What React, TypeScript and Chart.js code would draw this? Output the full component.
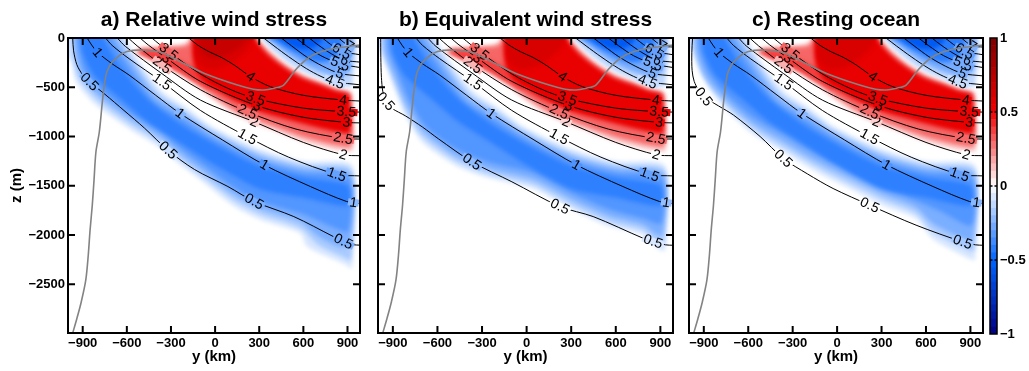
import React, { useEffect, useRef } from 'react';
import { Chart, registerables } from 'chart.js';

// ---------------- axes / ticks ----------------
const Y_KM_MIN = -1000;
const Y_KM_MAX = 985;
const Z_M_MIN = -2995;
const Z_M_MAX = 0;
const X_TICKS = [-900, -600, -300, 0, 300, 600, 900];
const Z_TICKS = [0, -500, -1000, -1500, -2000, -2500];
const CB_TICKS = [-1, -0.5, 0, 0.5, 1];
const CB_INNER_TICKS = [-0.5, 0, 0.5];
const CB_BINS = 40;

const TITLES = ['a) Relative wind stress', 'b) Equivalent wind stress', 'c) Resting ocean'];

// ---------------- contour lines (y km, z m) ----------------
const C05_A = [[-968,0],[-962,-130],[-940,-270],[-900,-375],[-854,-444],[-750,-570],[-620,-735],[-480,-915],[-320,-1140],[-140,-1335],[87,-1508],[266,-1660],[535,-1813],[804,-2016],[872,-2067],[935,-2098],[985,-2103]];
const C05_B = [[-982,0],[-981,-200],[-977,-400],[-968,-540],[-950,-640],[-905,-715],[-816,-790],[-700,-905],[-592,-1025],[-368,-1257],[-99,-1460],[224,-1711],[448,-1813],[784,-2033],[851,-2067],[935,-2100],[985,-2104]];
const C05_C = [[-976,0],[-981,-150],[-979,-330],[-965,-440],[-935,-530],[-901,-596],[-800,-690],[-699,-783],[-520,-1000],[-363,-1223],[-200,-1380],[-27,-1528],[220,-1697],[533,-1900],[847,-2070],[935,-2100],[985,-2104]];
const C10 = [[-870,0],[-835,-80],[-798,-147],[-700,-262],[-585,-376],[-406,-579],[-238,-766],[50,-1035],[334,-1288],[648,-1508],[894,-1660],[985,-1680]];
const C15 = [[-745,0],[-700,-75],[-585,-210],[-361,-444],[-100,-735],[219,-1003],[500,-1210],[827,-1385],[985,-1400]];
const C20 = [[-665,0],[-610,-85],[-361,-362],[-100,-630],[266,-851],[600,-1060],[872,-1186],[985,-1195]];
const C25 = [[-590,0],[-530,-80],[-361,-275],[-100,-525],[219,-749],[550,-925],[870,-1020],[985,-1026]];
const C30 = [[-510,0],[-455,-70],[-330,-205],[-100,-440],[286,-688],[600,-805],[892,-857],[985,-862]];
const C35 = [[-430,0],[-380,-62],[-316,-139],[-100,-365],[100,-520],[275,-614],[600,-712],[892,-749],[985,-752]];
const C40 = [[-178,0],[-120,-70],[-40,-140],[40,-195],[130,-275],[242,-393],[377,-495],[600,-582],[870,-630],[985,-640]];
const C45 = [[330,0],[400,-80],[500,-190],[620,-310],[720,-390],[814,-444],[985,-475]];
const C50 = [[450,0],[520,-80],[620,-190],[730,-285],[847,-360],[985,-385]];
const C55 = [[550,0],[620,-80],[720,-180],[850,-262],[985,-300]];
const C60 = [[640,0],[700,-70],[790,-160],[880,-225],[985,-245]];
const C65 = [[730,0],[785,-65],[860,-135],[985,-170]];
const C70 = [[840,0],[875,-45],[914,-82],[985,-92]];

const SHARED_CONTOURS: any[] = [
  ['1', C10], ['1.5', C15], ['2', C20], ['2.5', C25], ['3', C30], ['3.5', C35],
  ['4', C40], ['4.5', C45], ['5', C50], ['5.5', C55], ['6', C60], ['6.5', C65], ['7', C70],
];

// contour label positions
const L05_A = [[-854,-444],[-320,-1140],[266,-1660],[872,-2067]];
const L05_B = [[-950,-645],[-368,-1257],[224,-1711],[851,-2067]];
const L05_C = [[-901,-596],[-363,-1223],[220,-1697],[847,-2070]];
const SHARED_LABELS: any[] = [
  ['1', [[-798,-147],[-238,-766],[334,-1288],[940,-1672]]],
  ['1.5', [[-361,-444],[219,-1003],[827,-1385]]],
  ['2', [[266,-851],[872,-1186]]],
  ['2.5', [[-361,-275],[219,-749],[870,-1020]]],
  ['3', [[-330,-205],[286,-688],[892,-857]]],
  ['3.5', [[-316,-139],[275,-614],[892,-749]]],
  ['4', [[242,-393],[870,-630]]],
  ['4.5', [[814,-444]]],
  ['5', [[847,-360]]],
  ['5.5', [[850,-262]]],
  ['6', [[880,-225]]],
  ['6.5', [[860,-135]]],
  ['7', [[914,-82]]],
];

// grey profile line
const GRAY_LINE = [[-969,-3000],[-940,-2850],[-910,-2680],[-879,-2456],[-862,-2200],[-850,-1950],[-835,-1700],[-823,-1440],[-810,-1155],[-787,-952],[-764,-614],[-742,-376],[-720,-290],[-697,-241],[-630,-156],[-560,-126],[-460,-124],[-360,-150],[-250,-230],[-72,-360],[152,-478],[260,-520],[332,-528],[400,-510],[466,-478],[555,-309],[646,-190],[757,-122],[892,-88],[985,-72]];

// ---------------- shaded field ----------------
// deep blue band: upper edges (shared) and lower edges (per panel)
const BAND_VALUES = [-0.08, -0.17, -0.26, -0.34];
const BAND_U1 = [[-1050,60],[-610,60],[-610,0],[-520,-230],[-361,-540],[-200,-700],[-31,-890],[305,-1130],[600,-1250],[932,-1300]];
const BAND_U2 = [[-975,60],[-640,60],[-640,0],[-545,-240],[-380,-570],[-210,-735],[-31,-930],[305,-1170],[600,-1290],[925,-1340]];
const BAND_U3 = [[-960,60],[-670,60],[-670,0],[-570,-250],[-400,-600],[-220,-770],[-31,-965],[305,-1205],[600,-1325],[915,-1375]];
const BAND_U4 = [[-935,60],[-710,60],[-710,0],[-600,-270],[-420,-640],[-230,-820],[-31,-1010],[305,-1250],[600,-1370],[905,-1420]];
const BAND_CORE_VALUE = -0.41;
const BAND_CORE = [[-920,60],[-760,60],[-760,0],[-640,-300],[-460,-620],[-250,-860],[0,-1080],[300,-1300],[600,-1420],[900,-1500],[900,-1700],[600,-1620],[300,-1530],[0,-1290],[-250,-1050],[-460,-850],[-640,-620],[-820,-380],[-900,-150],[-910,0]];

const BAND_LA1 = [[-1050,-220],[-985,-220],[-944,-444],[-809,-681],[-585,-919],[-361,-1125],[-249,-1270],[-70,-1474],[132,-1711],[311,-1846],[580,-1982],[625,-2118],[894,-2304],[932,-2340]];
const BAND_LA2 = [[-975,0],[-965,-200],[-925,-410],[-800,-630],[-585,-865],[-361,-1070],[-249,-1215],[-70,-1420],[132,-1650],[311,-1790],[580,-1930],[700,-2100],[880,-2230],[925,-2250]];
const BAND_LA3 = [[-960,0],[-945,-180],[-905,-380],[-790,-580],[-585,-810],[-361,-1015],[-249,-1160],[-70,-1360],[132,-1590],[311,-1730],[580,-1860],[700,-2010],[850,-2120],[915,-2100]];
const BAND_LA4 = [[-935,0],[-920,-150],[-885,-330],[-780,-520],[-585,-750],[-361,-960],[-249,-1100],[-70,-1300],[132,-1520],[311,-1660],[600,-1790],[800,-1920],[905,-1960]];

const BAND_LB1 = [[-1050,-120],[-985,-120],[-973,-160],[-906,-444],[-816,-783],[-704,-1054],[-480,-1291],[-256,-1420],[45,-1530],[314,-1745],[562,-1915],[784,-1999],[896,-2151],[932,-2160]];
const BAND_LB2 = [[-975,0],[-965,-160],[-900,-410],[-810,-740],[-700,-1000],[-480,-1240],[-256,-1375],[45,-1485],[314,-1700],[562,-1865],[784,-1950],[880,-2080],[925,-2090]];
const BAND_LB3 = [[-960,0],[-950,-150],[-890,-380],[-800,-700],[-690,-950],[-480,-1190],[-256,-1325],[45,-1435],[314,-1645],[562,-1810],[784,-1895],[870,-1990],[915,-2000]];
const BAND_LB4 = [[-935,0],[-925,-130],[-870,-340],[-785,-640],[-680,-890],[-480,-1120],[-256,-1260],[45,-1370],[314,-1580],[562,-1740],[784,-1830],[905,-1880]];

const BAND_LC1 = [[-1050,-120],[-985,-120],[-948,-207],[-812,-614],[-587,-952],[-363,-1155],[-139,-1359],[85,-1528],[309,-1697],[533,-1833],[645,-2037],[893,-2240],[932,-2250]];
const BAND_LC2 = [[-975,0],[-960,-180],[-905,-400],[-800,-600],[-580,-905],[-363,-1105],[-139,-1305],[85,-1475],[309,-1640],[533,-1780],[645,-1960],[880,-2150],[925,-2160]];
const BAND_LC3 = [[-960,0],[-945,-160],[-890,-380],[-790,-570],[-575,-860],[-363,-1050],[-139,-1250],[85,-1420],[309,-1585],[533,-1720],[645,-1880],[860,-2040],[915,-2050]];
const BAND_LC4 = [[-935,0],[-925,-140],[-870,-340],[-775,-530],[-570,-800],[-363,-980],[-139,-1180],[85,-1350],[309,-1510],[533,-1650],[700,-1760],[905,-1900]];

// near-surface blue patch (upper right)
const TOP_BLUE_VALUES = [-0.13, -0.27, -0.42, -0.55];
const TOP_BLUE_1 = [[300,60],[932,60],[932,-480],[900,-500],[825,-478],[713,-412],[600,-342],[488,-240],[377,-105],[315,0]];
const TOP_BLUE_2 = [[325,60],[915,60],[915,-330],[860,-390],[780,-370],[680,-320],[580,-250],[480,-150],[390,-45],[340,0]];
const TOP_BLUE_3 = [[350,60],[850,60],[850,-130],[780,-230],[690,-245],[590,-190],[490,-105],[410,-30],[370,0]];
const TOP_BLUE_4 = [[385,60],[720,60],[720,-40],[650,-110],[560,-110],[480,-55],[425,0]];

// red core
const RED_VALUES = [0.12, 0.3, 0.38, 0.53, 0.6];
const RED_1 = [[-175,60],[290,60],[290,0],[377,-139],[488,-275],[600,-376],[713,-444],[825,-512],[925,-550],[935,-620],[935,-1140],[825,-1135],[600,-1050],[377,-925],[152,-790],[-25,-610],[-137,-470],[-249,-350],[-361,-262],[-473,-195],[-545,-145],[-520,-105],[-406,-88],[-294,-75],[-215,-60],[-185,-30],[-175,0]];
const RED_2 = [[-160,60],[275,60],[275,0],[365,-150],[475,-285],[590,-388],[705,-455],[815,-522],[915,-560],[925,-630],[925,-1090],[825,-1085],[600,-1000],[377,-880],[152,-745],[-25,-570],[-137,-440],[-249,-330],[-361,-245],[-473,-180],[-530,-140],[-500,-115],[-406,-105],[-294,-92],[-200,-80],[-168,-40],[-160,0]];
const RED_TONGUE = [[-500,-125],[-400,-140],[-290,-190],[-170,-280],[-60,-390],[0,-460],[-40,-520],[-140,-440],[-250,-345],[-360,-262],[-460,-195],[-515,-150]];
const RED_3 = [[-150,60],[265,60],[265,0],[355,-165],[465,-295],[580,-400],[700,-468],[810,-532],[905,-570],[915,-640],[915,-960],[825,-950],[600,-870],[377,-780],[250,-715],[100,-610],[-25,-500],[-90,-420],[-140,-300],[-155,-150],[-150,0]];
const RED_4 = [[-140,60],[262,60],[262,0],[230,-100],[160,-200],[80,-280],[0,-320],[-80,-300],[-130,-200],[-140,0]];
const RED_DARK_VALUE = 0.68;
const RED_DARK = [[-110,60],[220,60],[220,0],[180,-70],[100,-150],[20,-200],[-60,-190],[-100,-120],[-110,0]];

const PANELS: any[] = [
  { left: 0, width: 367, axisW: 68, showY: true, c05: C05_A, l05: L05_A, lower: [BAND_LA1, BAND_LA2, BAND_LA3, BAND_LA4], dark: true },
  { left: 370, width: 310, axisW: 8, showY: false, c05: C05_B, l05: L05_B, lower: [BAND_LB1, BAND_LB2, BAND_LB3, BAND_LB4], dark: false },
  { left: 681, width: 309, axisW: 8, showY: false, c05: C05_C, l05: L05_C, lower: [BAND_LC1, BAND_LC2, BAND_LC3, BAND_LC4], dark: false },
];

const FONT = '"Liberation Sans", Arial, Helvetica, sans-serif';
const LABEL_FONT = '14px "Liberation Sans", Arial, sans-serif';

function cmap(v: number): string {
  let r = 255, g = 255, b = 255;
  if (v >= 0) {
    if (v <= 0.5) { const t = v / 0.5; r = 255 - 15 * t; g = 255 * (1 - t); b = 255 * (1 - t); }
    else { const t = Math.min(1, (v - 0.5) / 0.5); r = 240 - 115 * t; g = 0; b = 0; }
  } else {
    const a = -v;
    if (a <= 0.5) { const t = a / 0.5; r = 255 * (1 - t); g = 255 - 155 * t; b = 255; }
    else { const t = Math.min(1, (a - 0.5) / 0.5); r = 0; g = 100 * (1 - t); b = 255 - 125 * t; }
  }
  return `rgb(${Math.round(r)},${Math.round(g)},${Math.round(b)})`;
}

const fmtMinus = (v: number) => (v < 0 ? '\u2212' + String(Math.abs(v)) : String(v));

// blur the shaded field slightly (registered before Filler so it wraps the fill)
const fieldBlur = {
  id: 'fieldBlur',
  beforeDatasetDraw(chart: any, args: any) {
    const ds = chart.data.datasets[args.index];
    if (ds && ds.kind === 'fill') { chart.ctx.save(); chart.ctx.filter = 'blur(2px)'; }
  },
  afterDatasetDraw(chart: any, args: any) {
    const ds = chart.data.datasets[args.index];
    if (ds && ds.kind === 'fill') chart.ctx.restore();
  },
};
Chart.register(fieldBlur as any);
Chart.register(...registerables);
Chart.defaults.font.family = FONT;
Chart.defaults.color = '#000';

function makeLabelPlugin(labelSets: any[], contourMap: any) {
  let placed: any[] | null = null;
  const place = (chart: any) => {
    const xs = chart.scales.x, ys = chart.scales.y;
    const out: any[] = [];
    for (const [text, pos] of labelSets) {
      const pts = contourMap[text].map((p: number[]) => [xs.getPixelForValue(p[0]), ys.getPixelForValue(p[1])]);
      for (const lp of pos) {
        const px = xs.getPixelForValue(lp[0]), py = ys.getPixelForValue(lp[1]);
        let best: any = null;
        for (let i = 0; i < pts.length - 1; i++) {
          const [x1, y1] = pts[i], [x2, y2] = pts[i + 1];
          const dx = x2 - x1, dy = y2 - y1;
          const L2 = dx * dx + dy * dy || 1;
          let t = ((px - x1) * dx + (py - y1) * dy) / L2;
          t = Math.max(0, Math.min(1, t));
          const qx = x1 + t * dx, qy = y1 + t * dy;
          const d = (qx - px) ** 2 + (qy - py) ** 2;
          if (!best || d < best.d) best = { d, x: qx, y: qy, ang: Math.atan2(dy, dx) };
        }
        let ang = best.ang;
        if (ang > Math.PI / 2) ang -= Math.PI;
        if (ang < -Math.PI / 2) ang += Math.PI;
        out.push({ text, x: best.x, y: best.y, ang });
      }
    }
    return out;
  };
  return {
    id: 'contourLabels',
    beforeDraw() { placed = null; },
    beforeDatasetDraw(chart: any, args: any) {
      const ds = chart.data.datasets[args.index];
      const ctx = chart.ctx;
      if (ds.kind === 'contour' && !placed) {
        const r = chart.currentDevicePixelRatio || 1;
        placed = place(chart).map((l: any) => {
          const d = ctx.getImageData(Math.round(l.x * r), Math.round(l.y * r), 1, 1).data;
          const a = d[3] / 255;
          const mix = (c: number) => Math.round(c * a + 255 * (1 - a));
          return { ...l, bg: `rgb(${mix(d[0])},${mix(d[1])},${mix(d[2])})` };
        });
      }
      if (ds.kind === 'gray' && placed) {
        const area = chart.chartArea;
        ctx.save();
        ctx.beginPath();
        ctx.rect(area.left, area.top, area.right - area.left, area.bottom - area.top);
        ctx.clip();
        for (const l of placed) {
          ctx.save();
          ctx.translate(l.x, l.y);
          ctx.rotate(l.ang);
          ctx.font = LABEL_FONT;
          const w = ctx.measureText(l.text).width;
          ctx.fillStyle = l.bg;
          ctx.fillRect(-w / 2 - 1.5, -3.5, w + 3, 7);
          ctx.fillStyle = '#000';
          ctx.textAlign = 'center';
          ctx.textBaseline = 'middle';
          ctx.fillText(l.text, 0, 0.5);
          ctx.restore();
        }
        ctx.restore();
      }
    },
  };
}

const framePlugin = {
  id: 'panelFrame',
  afterDraw(chart: any) {
    const { ctx, chartArea: a, scales } = chart;
    ctx.save();
    ctx.strokeStyle = '#000';
    ctx.lineWidth = 2;
    ctx.beginPath();
    for (const v of X_TICKS) {
      const px = scales.x.getPixelForValue(v);
      ctx.moveTo(px, a.bottom); ctx.lineTo(px, a.bottom - 7);
      ctx.moveTo(px, a.top); ctx.lineTo(px, a.top + 7);
    }
    for (const v of Z_TICKS) {
      const py = scales.y.getPixelForValue(v);
      ctx.moveTo(a.left, py); ctx.lineTo(a.left + 7, py);
      ctx.moveTo(a.right, py); ctx.lineTo(a.right - 7, py);
    }
    ctx.stroke();
    ctx.strokeRect(a.left, a.top, a.right - a.left, a.bottom - a.top);
    ctx.restore();
  },
};

const toXY = (pts: number[][]) => pts.map((p) => ({ x: p[0], y: p[1] }));

function buildPanel(p: any, idx: number) {
  const fills: any[] = [];
  const pushFill = (pts: number[][], v: number) => fills.push({
    type: 'line', kind: 'fill', data: toXY(pts), backgroundColor: cmap(v),
    borderColor: 'rgba(0,0,0,0)', borderWidth: 0, fill: 'shape', tension: 0.25, pointRadius: 0,
  });
  const uppers = [BAND_U1, BAND_U2, BAND_U3, BAND_U4];
  uppers.forEach((u, k) => pushFill(u.concat(p.lower[k].slice().reverse()), BAND_VALUES[k]));
  pushFill(BAND_CORE, BAND_CORE_VALUE);
  [TOP_BLUE_1, TOP_BLUE_2, TOP_BLUE_3, TOP_BLUE_4].forEach((pts, k) => pushFill(pts, TOP_BLUE_VALUES[k]));
  [RED_1, RED_2, RED_TONGUE, RED_3, RED_4].forEach((pts, k) => pushFill(pts, RED_VALUES[k]));
  if (p.dark) pushFill(RED_DARK, RED_DARK_VALUE);

  const contours: any[] = [['0.5', p.c05], ...SHARED_CONTOURS];
  const contourMap: any = {};
  contours.forEach(([t, pts]) => { contourMap[t] = pts; });
  const lines = contours.map(([, pts]) => ({
    type: 'line', kind: 'contour', data: toXY(pts), borderColor: '#000', borderWidth: 1,
    fill: false, tension: 0.3, pointRadius: 0,
  }));
  const gray = {
    type: 'line', kind: 'gray', data: toXY(GRAY_LINE), borderColor: '#838383', borderWidth: 1.6,
    fill: false, tension: 0.3, pointRadius: 0,
  };
  const all: any[] = [...fills, ...lines, gray];
  all.forEach((d, i) => { d.order = all.length - i; });

  const labelSets = [['0.5', p.l05], ...SHARED_LABELS];

  return {
    type: 'line',
    data: { datasets: all },
    options: {
      animation: false,
      responsive: false,
      devicePixelRatio: 1,
      events: [],
      layout: { padding: { left: 0, right: 7, top: 0, bottom: 0 } },
      elements: { line: { capBezierPoints: false }, point: { radius: 0, hitRadius: 0 } },
      plugins: {
        legend: { display: false },
        tooltip: { enabled: false },
        title: {
          display: true, text: TITLES[idx], fullSize: false, color: '#000',
          font: { size: 21, weight: 'bold', family: FONT }, padding: { top: 7.5, bottom: 5.3 },
        },
      },
      scales: {
        x: {
          type: 'linear', min: Y_KM_MIN, max: Y_KM_MAX,
          afterBuildTicks: (s: any) => { s.ticks = X_TICKS.map((v) => ({ value: v })); },
          afterFit: (s: any) => { s.height = 38; },
          ticks: { callback: (v: any) => fmtMinus(Number(v)), font: { size: 13, weight: 'bold' }, color: '#000', padding: 3, maxRotation: 0, autoSkip: false },
          grid: { display: false, drawTicks: false },
          border: { display: false },
          title: { display: true, text: 'y (km)', color: '#000', font: { size: 15, weight: 'bold' }, padding: { top: 0, bottom: 5 } },
        },
        y: {
          type: 'linear', min: Z_M_MIN, max: Z_M_MAX,
          afterBuildTicks: (s: any) => { s.ticks = Z_TICKS.map((v) => ({ value: v })); },
          afterFit: (s: any) => { s.width = p.axisW; },
          ticks: { display: p.showY, callback: (v: any) => fmtMinus(Number(v)), font: { size: 13, weight: 'bold' }, color: '#000', padding: 3, autoSkip: false },
          grid: { display: false, drawTicks: false },
          border: { display: false },
          title: { display: p.showY, text: 'z (m)', color: '#000', font: { size: 15, weight: 'bold' }, padding: { top: 8, bottom: 0 } },
        },
      },
    },
    plugins: [makeLabelPlugin(labelSets, contourMap), framePlugin],
  };
}

const cbFrame = {
  id: 'cbFrame',
  afterDraw(chart: any) {
    const { ctx, chartArea: a, scales } = chart;
    ctx.save();
    ctx.strokeStyle = '#000';
    ctx.lineWidth = 1.5;
    ctx.strokeRect(a.left, a.top, a.right - a.left, a.bottom - a.top);
    ctx.beginPath();
    for (const v of CB_INNER_TICKS) {
      const py = scales.y.getPixelForValue(v);
      ctx.moveTo(a.left, py); ctx.lineTo(a.left + 2.5, py);
      ctx.moveTo(a.right, py); ctx.lineTo(a.right - 2.5, py);
    }
    ctx.stroke();
    ctx.restore();
  },
};

function buildColorbar() {
  const step = 2 / CB_BINS;
  const datasets: any[] = [];
  for (let i = 0; i < CB_BINS; i++) {
    const lo = -1 + i * step;
    datasets.push({
      data: [[lo, lo + step]], backgroundColor: cmap(lo + step / 2), borderWidth: 0,
      grouped: false, barPercentage: 1, categoryPercentage: 1,
    });
  }
  return {
    type: 'bar',
    data: { labels: ['cb'], datasets },
    options: {
      animation: false,
      responsive: false,
      devicePixelRatio: 1,
      events: [],
      layout: { padding: { left: 5, right: 0, top: 38, bottom: 37 } },
      plugins: { legend: { display: false }, tooltip: { enabled: false } },
      scales: {
        x: { display: false },
        y: {
          position: 'right', min: -1, max: 1,
          afterBuildTicks: (s: any) => { s.ticks = CB_TICKS.map((v) => ({ value: v })); },
          afterFit: (s: any) => { s.width = 32; },
          ticks: { callback: (v: any) => fmtMinus(Number(v)), font: { size: 13, weight: 'bold' }, color: '#000', padding: 3 },
          grid: { display: false, drawTicks: false },
          border: { display: false },
        },
      },
    },
    plugins: [cbFrame],
  };
}

export default function App() {
  const r0 = useRef<HTMLCanvasElement>(null);
  const r1 = useRef<HTMLCanvasElement>(null);
  const r2 = useRef<HTMLCanvasElement>(null);
  const rc = useRef<HTMLCanvasElement>(null);
  const refs = [r0, r1, r2];
  useEffect(() => {
    const charts: any[] = PANELS.map((p, i) => new Chart(refs[i].current as any, buildPanel(p, i) as any));
    charts.push(new Chart(rc.current as any, buildColorbar() as any));
    return () => charts.forEach((c) => c.destroy());
  }, []);
  return (
    <div style={{ position: 'absolute', left: 0, top: 0, width: 1029, height: 371, background: '#fff', overflow: 'hidden' }}>
      {PANELS.map((p, i) => (
        <canvas key={i} ref={refs[i]} width={p.width} height={371}
          style={{ position: 'absolute', left: p.left, top: 0, width: p.width, height: 371 }} />
      ))}
      <canvas ref={rc} width={44} height={371} style={{ position: 'absolute', left: 985, top: 0, width: 44, height: 371 }} />
    </div>
  );
}
